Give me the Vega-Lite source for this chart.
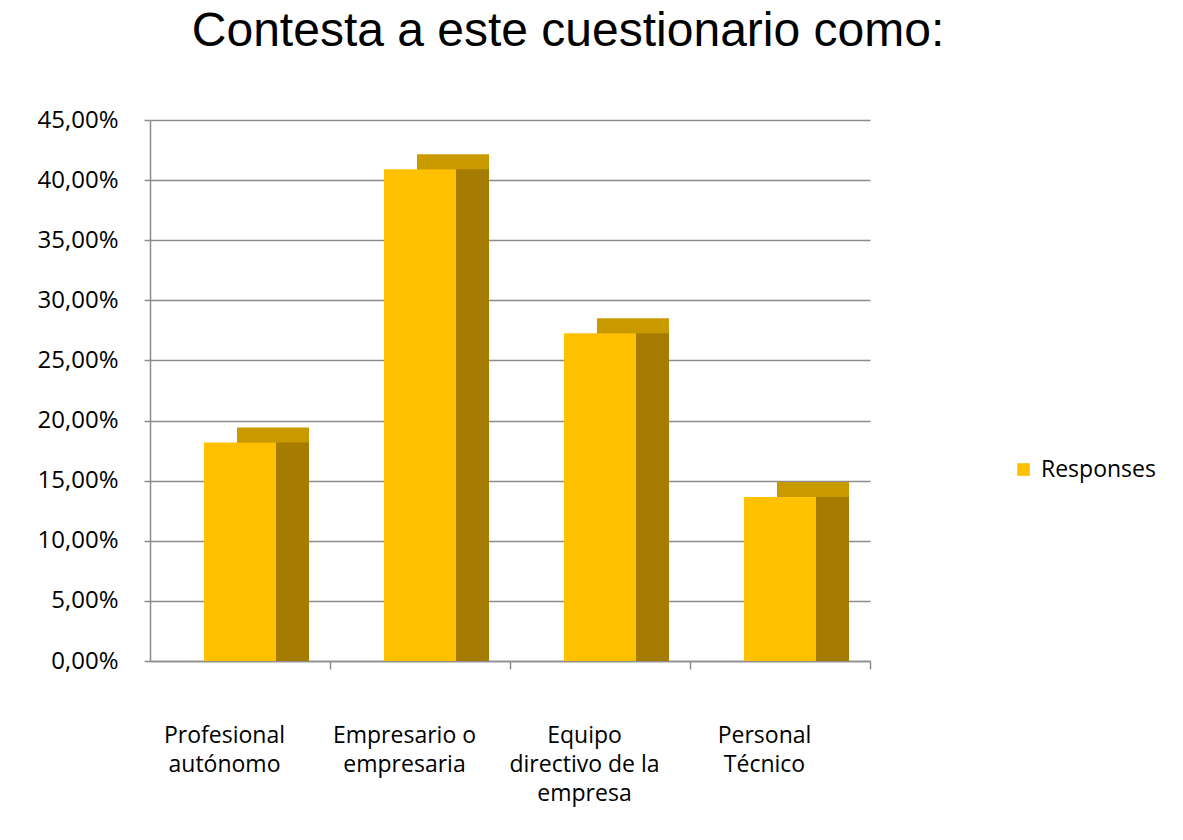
{
  "$schema": "https://vega.github.io/schema/vega-lite/v6.json",
  "autosize": {"type": "none"},
  "width": 720,
  "height": 541,
  "padding": {"left": 150, "top": 120, "right": 313, "bottom": 179},
  "background": "white",
  "title": {
    "text": "Contesta a este cuestionario como:",
    "font": "Liberation Sans",
    "fontSize": 48,
    "fontWeight": "normal",
    "color": "#000000",
    "anchor": "middle",
    "dx": 58,
    "offset": 52
  },
  "data": {
    "values": [
      {"categoria": "Profesional autónomo", "valor": 0.1818},
      {"categoria": "Empresario o empresaria", "valor": 0.4091},
      {"categoria": "Equipo directivo de la empresa", "valor": 0.2727},
      {"categoria": "Personal Técnico", "valor": 0.1364}
    ]
  },
  "encoding": {
    "x": {
      "field": "categoria",
      "type": "nominal",
      "sort": null,
      "scale": {"paddingInner": 0.6, "paddingOuter": 0.3},
      "axis": {
        "title": null,
        "labelAngle": 0,
        "labelFont": "Open Sans",
        "labelFontSize": 23,
        "labelColor": "#000000",
        "labelPadding": 55,
        "labelLineHeight": 29,
        "labelExpr": "datum.value == 'Profesional autónomo' ? ['Profesional','autónomo'] : datum.value == 'Empresario o empresaria' ? ['Empresario o','empresaria'] : datum.value == 'Equipo directivo de la empresa' ? ['Equipo','directivo de la','empresa'] : datum.value == 'Personal Técnico' ? ['Personal','Técnico'] : ''",
        "tickOffset": 90,
        "labelOffset": -106,
        "tickSize": 8,
        "tickColor": "#8c8c8c",
        "domainColor": "#8c8c8c",
        "domainWidth": 1.5,
        "tickWidth": 1.5
      }
    },
    "y": {
      "field": "valor",
      "type": "quantitative",
      "scale": {"domain": [0, 0.45], "nice": false},
      "axis": {
        "title": null,
        "values": [0, 0.05, 0.1, 0.15, 0.2, 0.25, 0.3, 0.35, 0.4, 0.45],
        "labelExpr": "replace(format(datum.value, '.2%'), '.', ',')",
        "labelFont": "Open Sans",
        "labelFontSize": 24,
        "labelColor": "#000000",
        "labelPadding": 26,
        "tickSize": 6,
        "tickColor": "#8c8c8c",
        "tickWidth": 1.5,
        "domainColor": "#8c8c8c",
        "domainWidth": 1.5,
        "grid": true,
        "gridColor": "#8c8c8c",
        "gridWidth": 1.5
      }
    }
  },
  "layer": [
    {
      "mark": {"type": "bar", "color": "#C99A00", "xOffset": 33, "yOffset": -15}
    },
    {
      "mark": {"type": "bar", "color": "#A57B00", "xOffset": 33, "yOffset": 0}
    },
    {
      "mark": {"type": "bar"},
      "encoding": {
        "color": {
          "datum": "Responses",
          "scale": {"range": ["#FFC000"]},
          "legend": {
            "title": null,
            "orient": "none",
            "legendX": 862,
            "legendY": 338,
            "symbolType": "square",
            "symbolSize": 160,
            "symbolStrokeWidth": 0,
            "labelFont": "Open Sans",
            "labelFontSize": 23,
            "labelColor": "#000000",
            "labelOffset": 6,
            "padding": 0
          }
        }
      }
    }
  ],
  "config": {"view": {"stroke": null}}
}
